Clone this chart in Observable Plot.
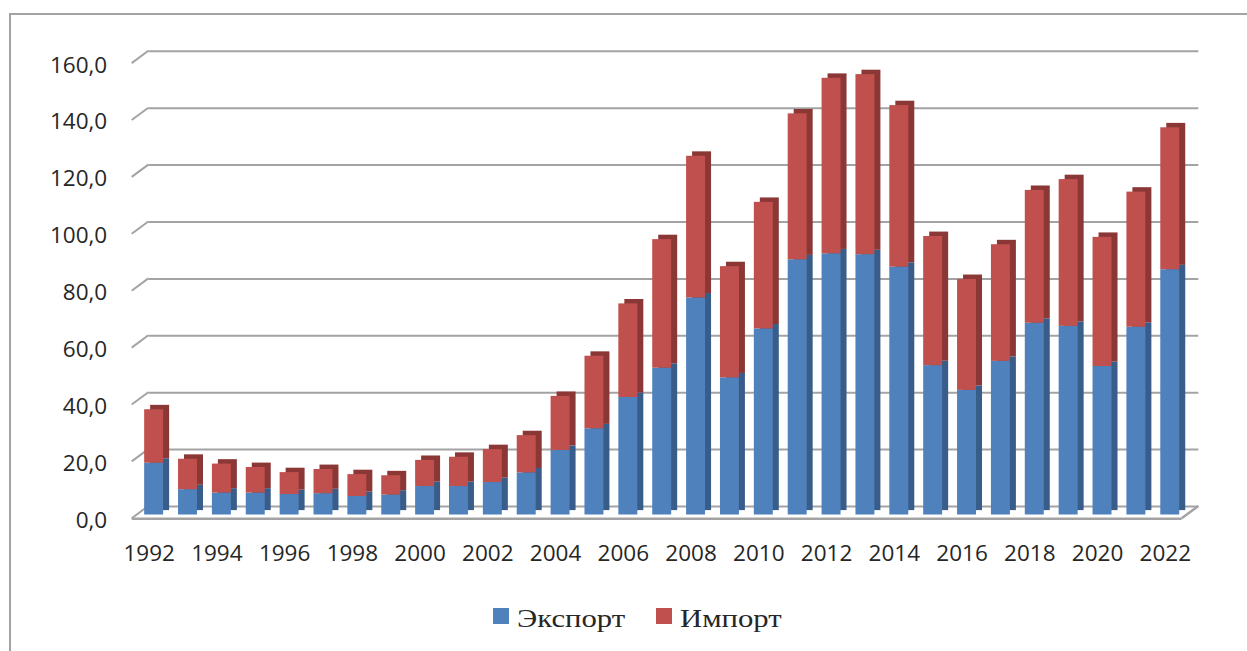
<!DOCTYPE html>
<html>
<head>
<meta charset="utf-8">
<script src="https://cdn.jsdelivr.net/npm/d3@7"></script>
<script src="https://cdn.jsdelivr.net/npm/@observablehq/plot@0.6"></script>
<style>
  html, body { margin: 0; padding: 0; background: #fff; overflow: hidden; }
  #wrap { position: relative; width: 1247px; height: 651px; }
  #border { position: absolute; left: 9px; top: 12.5px; right: 0; bottom: 0; border-top: 2px solid #a3a3a3; border-left: 2px solid #a3a3a3; }
  #chart { position: absolute; left: 0; top: 0; }
  #legend { position: absolute; left: 493px; top: 604px; display: flex; align-items: flex-start;
            font-family: "Liberation Serif", "Times New Roman", serif; font-size: 26px; line-height: 30px; color: #262626; }
  .item { display: flex; align-items: flex-start; }
  .sw { width: 16px; height: 16px; margin-top: 4px; margin-right: 8px; flex: none; }
  .lbl { display: inline-block; transform: scaleX(1.18); transform-origin: 0 50%; }
</style>
</head>
<body>
<div id="wrap">
  <div id="border"></div>
  <div id="chart"></div>
  <div id="legend"></div>
</div>
<script>
const years = [1992,1993,1994,1995,1996,1997,1998,1999,2000,2001,2002,2003,2004,2005,2006,2007,2008,2009,2010,2011,2012,2013,2014,2015,2016,2017,2018,2019,2020,2021,2022];
const exportVals = [18.2,8.9,7.7,7.7,7.2,7.5,6.5,7.0,10.0,10.0,11.4,14.8,22.7,30.3,41.3,51.6,76.3,48.2,65.4,89.7,91.8,91.5,87.1,52.5,43.8,54.0,67.4,66.3,52.2,66.0,86.2];
const importVals = [18.8,10.7,10.2,9.0,7.7,8.5,7.7,6.8,9.2,10.3,11.6,13.1,19.0,25.5,32.9,45.2,49.8,39.1,44.5,51.3,61.7,63.3,56.8,45.4,39.0,41.0,46.7,51.6,45.4,47.5,49.9];
const seriesNames = ["Экспорт", "Импорт"];
const seriesColors = ["#4f81bd", "#c0504d"];
const sideColors = ["#385d8a", "#8a3735"];
const yTicks = [0,20,40,60,80,100,120,140,160];
const xTickYears = years.filter(y => y % 2 === 0);

const table = years.flatMap((year, i) => [
  {year, series: seriesNames[0], y1: 0, y2: exportVals[i]},
  {year, series: seriesNames[1], y1: exportVals[i], y2: exportVals[i] + importVals[i]}
]);

const gridColor = "#a3a3a3";
// depth offsets (pixels) of the pseudo-3D look
const backDx = 11.6, backDy = -8.5, frontDx = -5, frontDy = 3.8;

function shoulders(index, scales, values, dimensions) {
  const y = scales.y || (scales.scales && scales.scales.y);
  const g = d3.create("svg:g").attr("stroke", gridColor).attr("stroke-width", 2).attr("fill", "none");
  const xl = dimensions.marginLeft;
  const xr = dimensions.width - dimensions.marginRight;
  for (const v of yTicks) {
    g.append("line")
      .attr("x1", xl + frontDx).attr("y1", y(v) + frontDy)
      .attr("x2", xl + backDx).attr("y2", y(v) + backDy);
  }
  g.append("line").attr("stroke-width", 2.5)
    .attr("x1", xr + frontDx).attr("y1", y(0) + frontDy)
    .attr("x2", xr + backDx).attr("y2", y(0) + backDy);
  return g.node();
}

const chart = Plot.plot({
  width: 1247,
  height: 580,
  marginLeft: 136.7,
  marginRight: 60.3,
  marginTop: 59.3,
  marginBottom: 65.5,
  style: {fontFamily: "'Open Sans', sans-serif", fontSize: "22.5px", color: "#262626", background: "transparent", overflow: "visible"},
  x: {type: "band", domain: years, paddingInner: 0.44, paddingOuter: 0.22, align: 0.5, round: false},
  y: {domain: [0, 160]},
  color: {domain: seriesNames, range: seriesColors},
  marks: [
    Plot.ruleY(yTicks, {stroke: gridColor, strokeWidth: 2, dx: backDx, dy: backDy}),
    shoulders,
    Plot.ruleY([0], {stroke: gridColor, strokeWidth: 2.5, dx: frontDx, dy: frontDy}),
    Plot.barY(table.filter(d => d.series === seriesNames[0]), {x: "year", y1: "y1", y2: "y2", fill: sideColors[0], dx: 6, dy: -4.4}),
    Plot.barY(table.filter(d => d.series === seriesNames[1]), {x: "year", y1: "y1", y2: "y2", fill: sideColors[1], dx: 6, dy: -4.4}),
    Plot.barY(table, {x: "year", y1: "y1", y2: "y2", fill: "series"}),
    Plot.axisY(yTicks, {tickSize: 0, tickPadding: 30, dy: 5.5, label: null,
      tickFormat: d => d.toFixed(1).replace(".", ",")}),
    Plot.axisX(xTickYears, {tickSize: 0, tickPadding: 30.5, dx: -5, label: null, tickFormat: d => String(d)})
  ]
});
document.getElementById("chart").appendChild(chart);

const legend = document.getElementById("legend");
seriesNames.forEach((name, i) => {
  const item = document.createElement("div");
  item.className = "item";
  if (i === 0) item.style.width = "163px";
  const sw = document.createElement("div");
  sw.className = "sw";
  sw.style.background = seriesColors[i];
  const label = document.createElement("span");
  label.className = "lbl";
  label.textContent = name;
  item.appendChild(sw);
  item.appendChild(label);
  legend.appendChild(item);
});
</script>
</body>
</html>
